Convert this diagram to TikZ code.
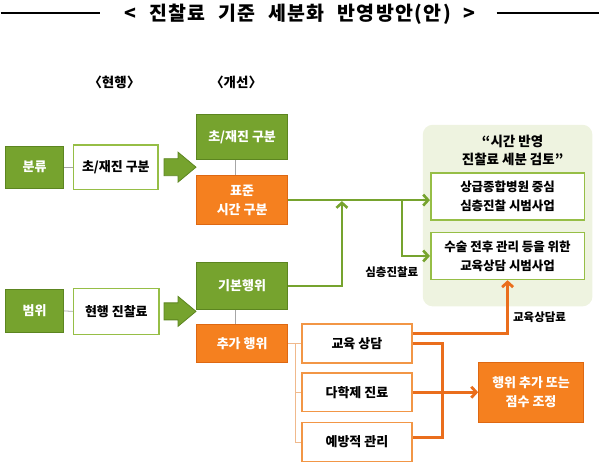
\documentclass[tikz,border=0pt]{standalone}
\usepackage{fontspec}
\setmainfont{Noto Sans CJK KR}
\newfontfamily\titlefont[LetterSpace=7,WordSpace=2.2]{Noto Sans CJK KR}
\usepackage{tikz}
\usetikzlibrary{positioning, shapes, arrows.meta, calc}
\definecolor{leafgreen}{RGB}{118,163,46}
\definecolor{darkleaf}{RGB}{92,133,32}
\definecolor{palegreen}{RGB}{150,190,70}
\definecolor{mistgreen}{RGB}{238,243,224}
\definecolor{tangerine}{RGB}{245,128,31}
\definecolor{darktangerine}{RGB}{222,104,18}
\definecolor{paleorange}{RGB}{242,150,70}
\definecolor{flameline}{RGB}{234,110,28}
\definecolor{tanline}{RGB}{240,185,140}

\begin{document}
\begin{tikzpicture}[x=1pt, y=-1pt, font=\bfseries\fontsize{13}{19}\selectfont,
	greenbox/.style={draw=darkleaf, fill=leafgreen, text=white, line width=1pt, minimum width=91pt, align=center, inner sep=0pt},
	orangebox/.style={draw=darktangerine, fill=tangerine, text=white, line width=1pt, minimum width=91pt, align=center, inner sep=0pt},
	whitebox/.style={draw=palegreen, fill=white, line width=1.6pt, align=center, inner sep=0pt},
	peachbox/.style={draw=paleorange, fill=white, line width=1.6pt, minimum width=110pt, minimum height=39pt, align=center, inner sep=0pt},
	pilotbox/.style={draw=palegreen, fill=white, line width=1.6pt, minimum width=154pt, minimum height=47pt, align=center, inner sep=0pt, font=\bfseries\fontsize{12.5}{19}\selectfont},
	smalllabel/.style={font=\bfseries\fontsize{11.5}{13}\selectfont},
	thinline/.style={draw=gray!70, line width=0.8pt},
	tanrule/.style={draw=tanline, line width=0.9pt},
	greenline/.style={draw=leafgreen, line width=2.6pt},
	flame/.style={draw=flameline, line width=2.8pt},
	tip/.style={-{Straight Barb[length=5pt,width=11pt]}},
	fatarrow/.style={draw=darkleaf, fill=leafgreen, line width=0.8pt}]
				\draw[line width=1.2pt] (0,13) -- (100,13);
				\draw[line width=1.2pt] (497,13) -- (600,13);
				\node (title) at (300,14) {\titlefont\bfseries\fontsize{19.5}{22}\selectfont < 진찰료 기준 세분화 반영방안(안) >};
				\node[font=\bfseries\fontsize{13.5}{19}\selectfont] (nowhdr) at (114,83) {〈현행〉};
				\node[font=\bfseries\fontsize{13.5}{19}\selectfont] (newhdr) at (236,83) {〈개선〉};
				
				\node[greenbox, minimum width=58pt, minimum height=42pt] (cls) at (34,167.5) {분류};
				\node[whitebox, minimum width=85pt, minimum height=45pt] (curcls) at (115.5,167.5) {초/재진 구분};
				\node[greenbox, minimum height=45pt] (newcls) at (242,137.5) {초/재진 구분};
				\node[orangebox, minimum height=49pt] (newtime) at (242,200.5) {표준\\시간 구분};
				
				\node[greenbox, minimum width=58pt, minimum height=43pt] (rng) at (34,311.5) {범위};
				\node[whitebox, minimum width=86pt, minimum height=46pt] (curfee) at (116,312) {현행 진찰료};
				\node[greenbox, minimum height=47pt] (basic) at (242,286.5) {기본행위};
				\node[orangebox, minimum height=38pt] (extra) at (242,344) {추가 행위};
				
				\node[peachbox] (edu) at (357,344) {교육 상담};
				\node[peachbox] (multi) at (357,393) {다학제 진료};
				\node[peachbox] (prev) at (357,443) {예방적 관리};
				\node[orangebox, minimum width=105pt, minimum height=60pt] (adj) at (531.5,393) {행위 추가 또는\\점수 조정};
				
				\node[fill=mistgreen, rounded corners=10pt, minimum width=170pt, minimum height=182pt] (review) at (508,216) {};
				\node[font=\bfseries\fontsize{13.5}{18}\selectfont, align=center] (revtitle) at (513,151) {“시간 반영\\진찰료 세분 검토”};
				\node[pilotbox] (pilotA) at (508,197) {상급종합병원 중심\\심층진찰 시범사업};
				\node[pilotbox] (pilotB) at (508,256.5) {수술 전후 관리 등을 위한\\교육상담 시범사업};
				
				\draw[thinline] (cls.east) -- (curcls.west);
				\draw[thinline] (rng.east) -- (curfee.west);
				\draw[thinline] ([xshift=-7pt]newcls.south) -- ([xshift=-7pt]newtime.north);
				\draw[thinline] ([xshift=-7pt]basic.south) -- ([xshift=-7pt]extra.north);
				
				\pgfmathsetmacro{\shaft}{14}
				\pgfmathsetmacro{\head}{18}
				\draw[fatarrow] ($(curcls.east)+(5,-8.5)$) -- ++(\shaft,0) -- ++(0,-6.5) -- ++(\head,15) -- ++(-\head,15) -- ++(0,-6.5) -- ++(-\shaft,0) -- cycle;
				\draw[fatarrow] ($(curfee.east)+(4,-8.5)$) -- ++(\shaft,0) -- ++(0,-6.5) -- ++(\head,15) -- ++(-\head,15) -- ++(0,-6.5) -- ++(-\shaft,0) -- cycle;
				
				\coordinate (upjoin) at (342,200.5);
				\coordinate (split) at (402,200.5);
				\draw[greenline, tip] (newtime.east) -- (newtime.east -| pilotA.west);
				\draw[greenline, tip, shorten >=1pt] (basic.east) -| (upjoin);
				\draw[greenline, tip] (split) |- (pilotB.west);
				\node[smalllabel] (deeplbl) at (392,273) {심층진찰료};
				
				\coordinate (fork) at (295,344);
				\draw[tanrule] (extra.east) -- (edu.west);
				\draw[tanrule] (fork) |- (prev.west);
				\draw[tanrule] (fork |- multi.west) -- (multi.west);
				
				\coordinate (merge) at (443,344);
				\draw[flame, tip] ([yshift=10pt]edu.east) -| (pilotB.south);
				\node[smalllabel] (edulbl) at (540,318) {교육상담료};
				\draw[flame] (edu.east) -- (merge) |- ([yshift=5pt]prev.east);
				\draw[flame, tip] (multi.east) -- (adj.west);
				
				\useasboundingbox (0,0) rectangle (600,468);
				\end{tikzpicture}
\end{document}
